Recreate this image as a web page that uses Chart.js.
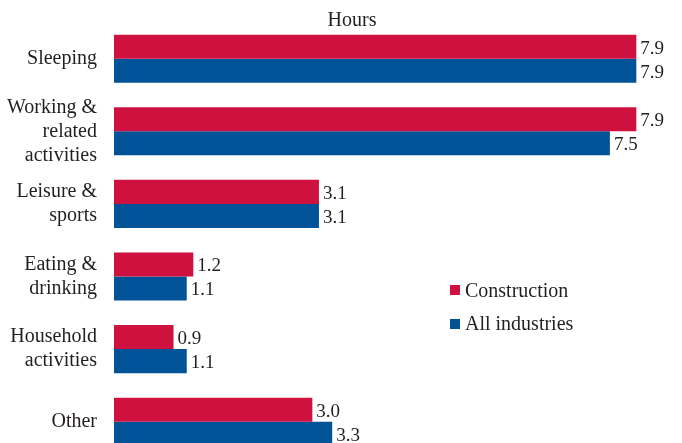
<!DOCTYPE html>
<html>
<head>
<meta charset="utf-8">
<script src="https://cdn.jsdelivr.net/npm/chart.js@4/dist/chart.umd.min.js"></script>
<style>
  html, body { margin: 0; padding: 0; background: #fff; overflow: hidden; }
  #wrap { position: relative; width: 682px; height: 458px; }
  #legend { position: absolute; left: 450px; top: 278px; font-family: "Liberation Serif", "Times New Roman", Times, "DejaVu Serif", serif; font-size: 20px; color: #231f20; }
  #legend .row { display: flex; align-items: center; height: 24px; margin-bottom: 9.5px; }
  #legend .sw { width: 10px; height: 10px; margin-right: 5px; }
</style>
</head>
<body>
<div id="wrap">
  <canvas id="c"></canvas>
  <div id="legend"></div>
</div>
<script>
const categories = [
  ["Sleeping"],
  ["Working &", "related", "activities"],
  ["Leisure &", "sports"],
  ["Eating &", "drinking"],
  ["Household", "activities"],
  ["Other"]
];
const seriesNames = ["Construction", "All industries"];
const construction = [7.9, 7.9, 3.1, 1.2, 0.9, 3.0];
const allIndustries = [7.9, 7.5, 3.1, 1.1, 1.1, 3.3];
const colors = ["#CF1140", "#005397"];
const axisTitle = "Hours";

const FONT = "'Liberation Serif', 'Times New Roman', Times, 'DejaVu Serif', serif";
const TEXT = "#231f20";

const valueLabels = {
  id: "valueLabels",
  afterDatasetsDraw(chart) {
    const ctx = chart.ctx;
    ctx.save();
    ctx.font = "19px " + FONT;
    ctx.fillStyle = TEXT;
    ctx.textAlign = "left";
    ctx.textBaseline = "middle";
    chart.data.datasets.forEach((ds, i) => {
      chart.getDatasetMeta(i).data.forEach((bar, j) => {
        ctx.fillText(ds.data[j].toFixed(1), bar.x + 4, bar.y + 2);
      });
    });
    ctx.restore();
  }
};

const topTitle = {
  id: "topTitle",
  afterDraw(chart) {
    const ctx = chart.ctx;
    ctx.save();
    ctx.font = "20px " + FONT;
    ctx.fillStyle = TEXT;
    ctx.textAlign = "center";
    ctx.textBaseline = "alphabetic";
    ctx.fillText(axisTitle, 352, 26);
    ctx.restore();
  }
};

const chart = new Chart(document.getElementById("c"), {
  type: "bar",
  data: {
    labels: categories,
    datasets: [
      { label: seriesNames[0], data: construction, backgroundColor: colors[0] },
      { label: seriesNames[1], data: allIndustries, backgroundColor: colors[1] }
    ]
  },
  options: {
    indexAxis: "y",
    responsive: true,
    maintainAspectRatio: false,
    animation: false,
    layout: { padding: { left: 0, right: 6, top: 22.4, bottom: 0 } },
    datasets: { bar: { categoryPercentage: 0.662, barPercentage: 1.0 } },
    plugins: {
      legend: { display: false },
      tooltip: { enabled: false },
      title: { display: false }
    },
    scales: {
      x: { display: false, min: 0, max: 8.5 },
      y: {
        afterFit(scale) {
          scale.width = 114;
          scale.paddingTop = 0;
          scale.paddingBottom = 0;
        },
        grid: { display: false, drawTicks: false },
        border: { display: false },
        ticks: {
          autoSkip: false,
          color: TEXT,
          padding: 17,
          font: { family: FONT, size: 20, lineHeight: 1.2 }
        }
      }
    }
  },
  plugins: [valueLabels, topTitle]
});

const legend = document.getElementById("legend");
seriesNames.forEach((name, i) => {
  const row = document.createElement("div");
  row.className = "row";
  const sw = document.createElement("span");
  sw.className = "sw";
  sw.style.background = colors[i];
  const t = document.createElement("span");
  t.textContent = name;
  row.appendChild(sw);
  row.appendChild(t);
  legend.appendChild(row);
});
</script>
</body>
</html>
